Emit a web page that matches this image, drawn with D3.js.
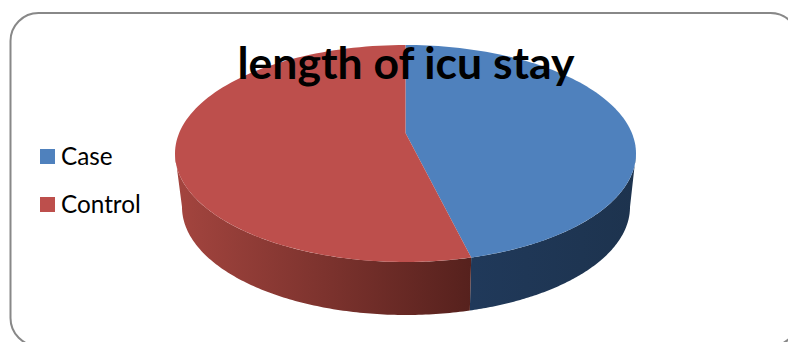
<!DOCTYPE html>
<html>
<head>
<meta charset="utf-8">
<style>html,body{margin:0;padding:0;background:#fff;overflow:hidden}svg{display:block}</style>
<script src="https://cdn.jsdelivr.net/npm/d3@7"></script>
</head>
<body>
<svg id="c" width="788" height="342"></svg>
<script>
const chartTitle = "length of icu stay";
const categories = ["Case", "Control"];
const values = [45.4, 54.6];
const topColors = ["#4f81bd", "#bd4f4c"];
const wallFrom = ["#1d334e", "#a4453f"];
const wallTo = ["#20395a", "#56211d"];

const svg = d3.select("#c");
const defs = svg.append("defs");
const color = d3.scaleOrdinal(categories, topColors);

// frame
svg.append("rect").attr("x", 10.5).attr("y", 13).attr("width", 788).attr("height", 333)
  .attr("rx", 28).attr("fill", "#fff").attr("stroke", "#888").attr("stroke-width", 2);

// projection of the tilted disc (slightly smaller base, as seen in perspective)
const apex = [405.5, 133];
const topDisc = {cx: 405.5, cy: 153.5, rx: 230.5, ry: 108.5};
const baseDisc = {cx: 406, cy: 207, rx: 224, ry: 108};
const at = (d, t) => [d.cx + d.rx * Math.sin(t), d.cy - d.ry * Math.cos(t)];
const line = d3.line();
const sweep = (d, a, b) => d3.range(0, 121).map(i => at(d, a + (b - a) * i / 120));

const slices = d3.pie().sort(null).value(v => v)(values);
const HALF = Math.PI / 2;

// side walls
slices.forEach((s, i) => {
  const a = Math.max(s.startAngle, HALF), b = Math.min(s.endAngle, 3 * HALF);
  if (b <= a) return;
  const t0 = at(topDisc, a), t1 = at(topDisc, b);
  const id = "wall" + i;
  const g = defs.append("linearGradient").attr("id", id)
    .attr("gradientUnits", "userSpaceOnUse")
    .attr("x1", i === 0 ? t0[0] : t1[0]).attr("x2", i === 0 ? t1[0] : t0[0])
    .attr("y1", 0).attr("y2", 0);
  g.append("stop").attr("offset", 0).attr("stop-color", wallFrom[i]);
  g.append("stop").attr("offset", 1).attr("stop-color", wallTo[i]);
  const pts = sweep(topDisc, a, b).concat(sweep(baseDisc, b, a));
  svg.append("path").attr("d", line(pts) + "Z").attr("fill", `url(#${id})`);
});

// top face
slices.forEach((s, i) => {
  const pts = [apex].concat(sweep(topDisc, s.startAngle, s.endAngle));
  svg.append("path").attr("d", line(pts) + "Z").attr("fill", color(categories[i]));
});

// legend
const legendY = d3.scalePoint(categories, [156.5, 204.5]);
const items = svg.selectAll("g.item").data(categories).join("g").attr("class", "item")
  .attr("transform", d => `translate(40,${legendY(d)})`);
items.append("rect").attr("x", 0).attr("y", -7.5).attr("width", 15).attr("height", 15)
  .attr("fill", d => color(d));
items.append("text").attr("x", 21).attr("y", 8)
  .attr("font-family", "Lato, 'Open Sans', sans-serif").attr("font-size", 24.3).attr("fill", "#000")
  .text(d => d);

// title
svg.append("text").attr("x", 406).attr("y", 79).attr("text-anchor", "middle")
  .attr("font-family", "Lato, 'Open Sans', sans-serif").attr("font-weight", 700)
  .attr("font-size", 44.5).attr("fill", "#000").text(chartTitle);
</script>
</body>
</html>
